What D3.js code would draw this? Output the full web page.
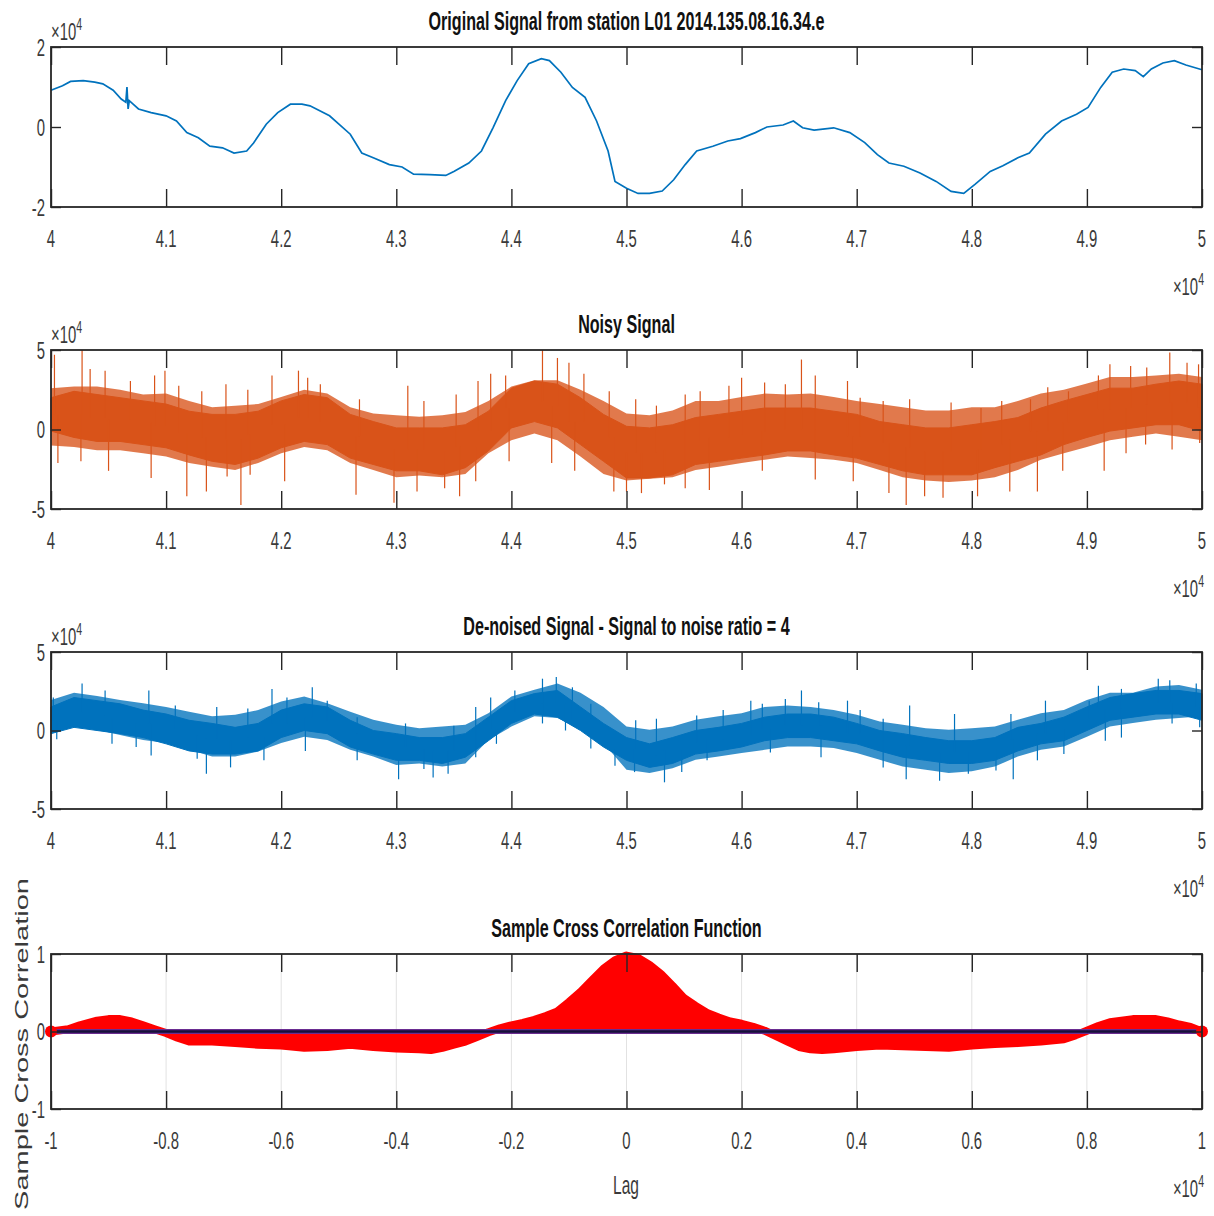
<!DOCTYPE html>
<html>
<head>
<meta charset="utf-8">
<script src="https://cdn.jsdelivr.net/npm/d3@7"></script>
<style>
body { margin: 0; background: #fff; }
svg { display: block; }
</style>
</head>
<body>
<script>
// all signal values are in units of 1e4 (the axes carry a x10^4 factor)

// original signal
var origT = [4.000,4.010,4.017,4.028,4.038,4.045,4.054,4.061,4.065,4.066,4.067,4.068,4.076,4.087,4.100,4.109,4.118,4.128,4.138,4.149,4.159,4.170,4.176,4.187,4.197,4.208,4.218,4.225,4.242,4.260,4.270,4.280,4.294,4.305,4.315,4.329,4.343,4.350,4.363,4.374,4.384,4.395,4.405,4.415,4.426,4.433,4.443,4.453,4.464,4.474,4.484,4.490,4.500,4.510,4.520,4.531,4.541,4.551,4.561,4.575,4.588,4.599,4.612,4.622,4.636,4.645,4.653,4.663,4.680,4.694,4.707,4.718,4.728,4.741,4.755,4.769,4.782,4.793,4.803,4.816,4.827,4.840,4.850,4.864,4.878,4.891,4.901,4.912,4.922,4.932,4.942,4.949,4.956,4.966,4.976,4.986,5.000];
var origV = [0.92,1.03,1.14,1.16,1.12,1.08,0.92,0.70,0.62,1.00,0.45,0.66,0.45,0.36,0.28,0.15,-0.14,-0.27,-0.48,-0.52,-0.65,-0.60,-0.40,0.07,0.36,0.57,0.57,0.53,0.28,-0.18,-0.65,-0.77,-0.94,-1.00,-1.18,-1.19,-1.21,-1.11,-0.90,-0.60,-0.02,0.66,1.16,1.58,1.71,1.66,1.37,0.99,0.74,0.15,-0.60,-1.36,-1.53,-1.66,-1.66,-1.60,-1.32,-0.94,-0.60,-0.48,-0.35,-0.29,-0.14,0.00,0.05,0.15,-0.02,-0.08,-0.02,-0.14,-0.39,-0.69,-0.90,-0.98,-1.15,-1.36,-1.61,-1.66,-1.43,-1.11,-0.97,-0.77,-0.65,-0.18,0.15,0.32,0.49,0.99,1.37,1.45,1.41,1.26,1.45,1.60,1.66,1.55,1.43];

// sample positions at which the noise bands were read
var bandT = [4.00,4.02,4.04,4.06,4.08,4.10,4.12,4.14,4.16,4.18,4.20,4.22,4.24,4.26,4.28,4.30,4.32,4.34,4.36,4.38,4.40,4.42,4.44,4.46,4.48,4.50,4.52,4.54,4.56,4.58,4.60,4.62,4.64,4.66,4.68,4.70,4.72,4.74,4.76,4.78,4.80,4.82,4.84,4.86,4.88,4.90,4.92,4.94,4.96,4.98,5.00];

// noisy signal: fuzzy outer edge, solid core, isolated spikes
var noisyHi = [2.6,2.7,2.7,2.5,2.2,2.26,1.8,1.4,1.5,1.6,2.05,2.5,2.26,1.4,1.0,0.9,0.8,0.9,1.1,1.8,2.7,3.1,3.1,2.5,1.8,1.0,0.9,1.2,1.8,1.8,2.05,2.26,2.2,2.26,2.05,1.8,1.6,1.4,1.2,1.2,1.4,1.4,1.8,2.26,2.5,2.9,3.3,3.3,3.4,3.5,3.3];
var noisyLo = [-1.0,-1.1,-1.3,-1.3,-1.5,-1.7,-2.1,-2.35,-2.55,-2.1,-1.5,-1.1,-1.3,-2.1,-2.55,-3.0,-2.9,-3.0,-2.8,-1.5,-0.67,-0.25,-0.67,-1.7,-2.8,-3.2,-3.1,-3.0,-2.55,-2.35,-2.1,-1.9,-1.7,-1.8,-1.9,-2.1,-2.55,-3.0,-3.2,-3.3,-3.2,-3.0,-2.55,-1.9,-1.5,-1.1,-0.67,-0.46,-0.25,-0.46,-0.67];
var noisyCoreHi = [2.0,2.4,2.2,2.0,1.8,1.6,1.15,0.95,0.95,1.15,1.8,2.2,2.0,0.95,0.5,0.1,0.1,0.1,0.3,1.15,2.6,3.05,2.85,2.0,0.95,0.2,0.1,0.3,0.75,0.95,1.15,1.35,1.35,1.35,1.15,0.95,0.5,0.3,0.1,0.1,0.3,0.5,0.75,1.35,1.8,2.2,2.6,2.6,2.85,3.05,2.85];
var noisyCoreLo = [-0.1,-0.5,-0.75,-0.75,-0.95,-1.15,-1.6,-2.0,-2.2,-1.8,-1.15,-0.75,-0.95,-1.8,-2.2,-2.6,-2.6,-2.85,-2.4,-1.35,0.1,0.5,0.1,-0.95,-2.0,-3.05,-3.05,-2.85,-2.2,-2.0,-1.8,-1.6,-1.35,-1.35,-1.6,-1.8,-2.2,-2.6,-2.85,-2.85,-2.85,-2.4,-2.0,-1.6,-0.95,-0.5,-0.1,0.1,0.3,0.3,-0.1];
var noisySpikeT = [4.003,4.027,4.034,4.047,4.069,4.090,4.099,4.111,4.131,4.152,4.171,4.192,4.215,4.223,4.234,4.268,4.310,4.324,4.352,4.371,4.382,4.395,4.427,4.440,4.450,4.463,4.485,
                   4.006,4.026,4.050,4.087,4.118,4.135,4.153,4.165,4.173,4.203,4.265,4.298,4.318,4.342,4.355,4.369,4.398,4.435,4.455,4.489,
                   4.508,4.526,4.551,4.564,4.589,4.600,4.620,4.638,4.652,4.664,4.692,4.703,4.723,4.746,4.782,4.808,4.826,4.851,4.866,4.884,4.910,4.920,4.938,4.952,4.972,4.987,4.997,
                   4.500,4.513,4.533,4.551,4.572,4.618,4.664,4.697,4.728,4.743,4.759,4.775,4.805,4.833,4.857,4.879,4.915,4.934,4.951,4.974,4.998];
var noisySpikeV = [4.7,5.0,3.8,3.7,3.05,3.4,3.7,2.75,2.4,2.85,2.5,3.4,3.7,3.25,2.85,1.9,2.75,1.8,2.2,3.05,3.5,3.4,5.0,4.5,4.2,3.5,2.4,
                   -2.1,-2.0,-2.6,-3.05,-4.2,-3.9,-2.95,-4.75,-2.85,-3.25,-4.1,-4.6,-3.9,-3.7,-4.2,-3.25,-2.0,-2.1,-2.6,-3.9,
                   1.9,1.5,2.2,2.4,2.75,3.25,2.95,2.85,4.4,3.4,3.05,2.0,1.8,1.9,1.7,1.35,1.8,1.9,2.65,2.4,3.4,4.1,4.0,3.9,4.85,4.2,4.1,
                   -3.9,-4.0,-3.45,-3.7,-3.8,-2.6,-3.15,-3.25,-4.0,-4.75,-4.2,-4.3,-4.2,-3.9,-3.9,-2.6,-2.6,-1.5,-0.95,-1.25,-0.85];

// de-noised signal: fuzzy outer edge, solid core, isolated spikes
var denoisedHi = [1.95,2.4,2.2,1.95,1.74,1.5,1.2,0.9,1.0,1.3,1.85,2.17,1.74,1.2,0.68,0.36,0.15,0.25,0.36,1.1,2.17,2.6,3.0,2.4,1.5,0.25,0.04,0.25,0.68,0.9,1.1,1.5,1.6,1.5,1.3,1.0,0.57,0.36,0.15,0.04,0.15,0.25,0.68,1.1,1.3,1.95,2.4,2.4,2.8,2.9,2.6];
var denoisedLo = [-0.06,0.25,0.04,-0.28,-0.6,-0.8,-1.23,-1.65,-1.65,-1.34,-0.8,-0.4,-0.6,-1.23,-1.65,-2.2,-2.1,-2.3,-2.1,-0.6,0.25,0.9,0.8,0.04,-0.8,-2.5,-2.7,-2.4,-1.87,-1.65,-1.44,-1.23,-1.02,-1.02,-1.12,-1.44,-1.87,-2.3,-2.5,-2.7,-2.6,-2.3,-1.65,-1.23,-1.02,-0.4,0.25,0.47,0.68,0.8,0.9];
var denoisedCoreHi = [1.5,2.1,1.9,1.7,1.3,1.05,0.65,0.45,0.2,0.45,1.3,1.7,1.5,0.65,0.0,-0.2,-0.45,-0.45,-0.2,0.85,1.9,2.35,2.55,1.5,0.45,-0.45,-0.85,-0.45,0.0,0.2,0.45,0.85,1.05,1.05,0.85,0.45,0.0,-0.2,-0.45,-0.65,-0.65,-0.45,0.2,0.45,0.85,1.5,2.1,2.35,2.55,2.55,2.35];
var denoisedCoreLo = [-0.2,0.2,0.0,-0.2,-0.45,-0.85,-1.3,-1.5,-1.5,-1.3,-0.45,0.0,-0.2,-1.05,-1.5,-1.9,-1.9,-2.1,-1.7,-0.65,0.45,1.05,0.85,0.0,-1.05,-1.9,-2.35,-2.1,-1.5,-1.3,-1.05,-0.65,-0.45,-0.45,-0.65,-0.85,-1.3,-1.7,-1.9,-2.1,-2.1,-1.9,-1.3,-0.85,-0.65,0.0,0.65,0.85,1.05,1.05,0.65];
var denoisedSpikeT = [4.002,4.027,4.047,4.085,4.108,4.144,4.171,4.192,4.205,4.227,4.240,4.266,4.308,4.350,4.369,4.382,4.403,4.427,4.439,4.453,4.469,
                      4.005,4.053,4.074,4.087,4.127,4.135,4.156,4.185,4.221,4.266,4.302,4.324,4.332,4.345,4.369,4.387,4.427,4.447,4.469,4.490,
                      4.508,4.526,4.561,4.584,4.608,4.618,4.638,4.652,4.667,4.692,4.703,4.723,4.746,4.785,4.834,4.864,4.902,4.910,4.930,4.962,4.972,4.995,
                      4.507,4.533,4.548,4.570,4.625,4.669,4.723,4.743,4.772,4.797,4.821,4.836,4.857,4.880,4.916,4.930,4.974,4.998];
var denoisedSpikeV = [2.1,3.0,2.55,2.55,1.6,1.5,1.4,2.65,2.1,2.75,1.9,0.85,0.45,0.3,1.5,2.1,2.55,3.3,3.4,2.75,1.7,
                      -0.55,-0.85,-1.05,-1.6,-1.8,-2.75,-2.35,-1.9,-1.3,-1.9,-3.1,-2.45,-3.0,-2.75,-1.7,-0.85,0.45,0.0,-1.15,-2.25,
                      0.65,0.75,0.95,1.3,1.9,1.7,2.0,2.55,1.8,1.9,1.3,0.75,1.6,1.05,1.05,1.9,1.9,2.85,2.65,3.3,3.2,3.0,
                      -2.65,-3.3,-2.65,-1.9,-1.4,-1.7,-2.35,-3.1,-3.2,-2.75,-2.55,-3.1,-1.9,-1.5,-0.65,-0.45,0.45,0.2];

// sample cross correlation (lag in units of 1e4)
var ccfLag = [-1.00,-0.97,-0.95,-0.92,-0.90,-0.88,-0.86,-0.84,-0.82,-0.80,-0.78,-0.76,-0.72,-0.68,-0.64,-0.60,-0.56,-0.52,-0.48,-0.44,-0.40,-0.36,-0.34,-0.32,-0.30,-0.28,-0.26,-0.24,-0.22,-0.20,-0.18,-0.16,-0.14,-0.12,-0.10,-0.08,-0.06,-0.04,-0.02,0.00,0.02,0.04,0.06,0.08,0.10,0.12,0.14,0.16,0.18,0.20,0.22,0.24,0.26,0.28,0.30,0.32,0.34,0.36,0.40,0.44,0.48,0.52,0.56,0.60,0.64,0.68,0.72,0.76,0.78,0.80,0.82,0.84,0.86,0.88,0.90,0.92,0.94,0.96,0.98,1.00];
var ccfVal = [0.0,0.03,0.08,0.14,0.16,0.16,0.13,0.08,0.03,-0.02,-0.08,-0.13,-0.13,-0.15,-0.17,-0.18,-0.21,-0.20,-0.17,-0.20,-0.22,-0.23,-0.24,-0.21,-0.17,-0.13,-0.07,-0.01,0.04,0.08,0.11,0.15,0.20,0.26,0.38,0.51,0.66,0.81,0.92,0.98,0.95,0.86,0.74,0.59,0.43,0.33,0.24,0.18,0.13,0.10,0.06,0.01,-0.06,-0.13,-0.20,-0.23,-0.24,-0.23,-0.20,-0.18,-0.19,-0.20,-0.21,-0.18,-0.16,-0.15,-0.13,-0.10,-0.05,0.01,0.07,0.12,0.14,0.16,0.16,0.16,0.13,0.09,0.06,0.0];

// ticks and titles
var timeTicks = [4,4.1,4.2,4.3,4.4,4.5,4.6,4.7,4.8,4.9,5];
var timeTickLabels = ["4","4.1","4.2","4.3","4.4","4.5","4.6","4.7","4.8","4.9","5"];
var lagTicks = [-1,-0.8,-0.6,-0.4,-0.2,0,0.2,0.4,0.6,0.8,1];
var lagTickLabels = ["-1","-0.8","-0.6","-0.4","-0.2","0","0.2","0.4","0.6","0.8","1"];
var titles = ["Original Signal from station L01 2014.135.08.16.34.e", "Noisy Signal",
              "De-noised Signal - Signal to noise ratio = 4", "Sample Cross Correlation Function"];

var W = 1214, H = 1216, L = 51, R = 1202, SX = 0.62;
var FONT = "'Liberation Sans', Arial, Helvetica, sans-serif";
var BLUE = "#0072BD", ORANGE = "#D95319", AX = "#262626";

var svg = d3.select("body").append("svg")
            .attr("width", W)
            .attr("height", H);

var xTime = d3.scaleLinear().domain([4, 5]).range([L, R]);
var xLag = d3.scaleLinear().domain([-1, 1]).range([L, R]);

// text is drawn narrow, like the reference
function txt(x, y, s, size, anchor, weight, color) {
    return svg.append("text")
              .attr("transform", "translate(" + x + "," + y + ") scale(" + SX + ",1)")
              .attr("text-anchor", anchor)
              .style("font-family", FONT)
              .style("font-size", size + "px")
              .style("font-weight", weight || "normal")
              .attr("fill", color || "#3a3a3a")
              .text(s);
}

function exponent(x, y, anchor) {
    var t = txt(x, y, "\u00d710", 24, anchor);
    t.append("tspan").attr("dy", -10).style("font-size", "17px").text("4");
}

function frame(top, bottom, xs, ticks, tickLabels, y, yTicks, yLabels, title, topExp) {
    var g = svg.append("g");
    // inward ticks on all four sides
    g.append("g").attr("transform", "translate(0," + bottom + ")")
     .call(d3.axisBottom(xs).tickValues(ticks).tickSize(-18).tickFormat(""));
    g.append("g").attr("transform", "translate(0," + top + ")")
     .call(d3.axisTop(xs).tickValues(ticks).tickSize(-18).tickFormat(""));
    g.append("g").attr("transform", "translate(" + L + ",0)")
     .call(d3.axisLeft(y).tickValues(yTicks).tickSize(-10).tickFormat(""));
    g.append("g").attr("transform", "translate(" + R + ",0)")
     .call(d3.axisRight(y).tickValues(yTicks).tickSize(-10).tickFormat(""));
    g.selectAll(".domain").remove();
    g.selectAll(".tick line").attr("stroke", AX).attr("stroke-width", 1.4);

    g.append("rect")
     .attr("x", L).attr("y", top)
     .attr("width", R - L).attr("height", bottom - top)
     .attr("fill", "none").attr("stroke", AX).attr("stroke-width", 1.8);

    ticks.forEach(function(t, i) { txt(xs(t), bottom + 40, tickLabels[i], 24, "middle"); });
    yTicks.forEach(function(v, i) { txt(45, y(v) + 8.5, yLabels[i], 24, "end"); });

    txt((L + R) / 2, top - 17, title, 26, "middle", "bold", "#111");
    if (topExp) exponent(51, top - 7, "start");
    exponent(1204, bottom + 88, "end");
}

function bandPath(y, hi, lo) {
    return d3.area().x(function(d, i){ return xTime(bandT[i]); })
                    .y0(function(d, i){ return y(lo[i]); })
                    .y1(function(d, i){ return y(hi[i]); })(bandT);
}

function noisyPanel(top, bottom, hi, lo, coreHi, coreLo, spT, spV, color, title) {
    var y = d3.scaleLinear().domain([-5, 5]).range([bottom, top]);
    // fuzzy edge where the noise is thin, then the solid core
    svg.append("path").attr("d", bandPath(y, hi, lo))
       .attr("fill", color).attr("fill-opacity", 0.78);
    svg.append("path").attr("d", bandPath(y, coreHi, coreLo))
       .attr("fill", color).attr("stroke", color).attr("stroke-width", 1);
    var bis = d3.bisector(function(t){ return t; }).center;
    svg.append("g").selectAll("line")
       .data(spT.map(function(t, i){ return {t: t, v: spV[i]}; }))
       .enter().append("line")
       .attr("x1", function(d){return xTime(d.t);})
       .attr("x2", function(d){return xTime(d.t);})
       .attr("y1", function(d){ var k = bis(bandT, d.t); return y((coreHi[k] + coreLo[k]) / 2); })
       .attr("y2", function(d){return y(d.v);})
       .attr("stroke", color)
       .attr("stroke-width", 1.2);
    frame(top, bottom, xTime, timeTicks, timeTickLabels, y, [-5, 0, 5], ["-5", "0", "5"], title, true);
}

// panel 1: original signal
var y1 = d3.scaleLinear().domain([-2, 2]).range([207, 47]);
svg.append("path")
   .datum(origT.map(function(t, i){ return [t, origV[i]]; }))
   .attr("d", d3.line().x(function(d){return xTime(d[0]);}).y(function(d){return y1(d[1]);}))
   .attr("fill", "none")
   .attr("stroke", BLUE)
   .attr("stroke-width", 1.7);
frame(47, 207, xTime, timeTicks, timeTickLabels, y1, [-2, 0, 2], ["-2", "0", "2"], titles[0], true);

// panels 2 and 3
noisyPanel(350, 509, noisyHi, noisyLo, noisyCoreHi, noisyCoreLo, noisySpikeT, noisySpikeV, ORANGE, titles[1]);
noisyPanel(652, 809, denoisedHi, denoisedLo, denoisedCoreHi, denoisedCoreLo, denoisedSpikeT, denoisedSpikeV, BLUE, titles[2]);

// panel 4: cross correlation as a dense stem plot
var y4 = d3.scaleLinear().domain([-1, 1]).range([1109, 954]);
var ccf = ccfLag.map(function(l, i){ return [l, ccfVal[i]]; });
svg.append("g").selectAll("line")
   .data(lagTicks)
   .enter().append("line")
   .attr("x1", function(d){return xLag(d);})
   .attr("x2", function(d){return xLag(d);})
   .attr("y1", 954).attr("y2", 1109)
   .attr("stroke", "#e2e2e2").attr("stroke-width", 1);
svg.append("path")
   .datum(ccf)
   .attr("d", d3.area().x(function(d){return xLag(d[0]);}).y0(y4(0)).y1(function(d){return y4(d[1]);}))
   .attr("fill", "#ff0000");
svg.append("path")
   .datum(ccf)
   .attr("d", d3.line().x(function(d){return xLag(d[0]);}).y(function(d){return y4(d[1]);}))
   .attr("fill", "none")
   .attr("stroke", "#ff0000")
   .attr("stroke-width", 8)
   .attr("stroke-linejoin", "round");
svg.append("line")
   .attr("x1", L).attr("x2", R).attr("y1", y4(0)).attr("y2", y4(0))
   .attr("stroke", "#6a2c91").attr("stroke-width", 5);
svg.append("line")
   .attr("x1", L).attr("x2", R).attr("y1", y4(0)).attr("y2", y4(0))
   .attr("stroke", "#16103a").attr("stroke-width", 2.5);
svg.append("g").selectAll("circle")
   .data([ccf[0], ccf[ccf.length - 1]])
   .enter().append("circle")
   .attr("cx", function(d){return xLag(d[0]);})
   .attr("cy", function(d){return y4(d[1]);})
   .attr("r", 6)
   .attr("fill", "#ff0000");
frame(954, 1109, xLag, lagTicks, lagTickLabels, y4, [-1, 0, 1], ["-1", "0", "1"], titles[3], false);

txt(626, 1194, "Lag", 25, "middle");
svg.append("text")
   .attr("transform", "translate(28,1044) scale(" + SX + ",1) rotate(-90)")
   .attr("text-anchor", "middle")
   .style("font-family", FONT)
   .style("font-size", "29px")
   .attr("fill", "#3a3a3a")
   .text("Sample Cross Correlation");
</script>
</body>
</html>
